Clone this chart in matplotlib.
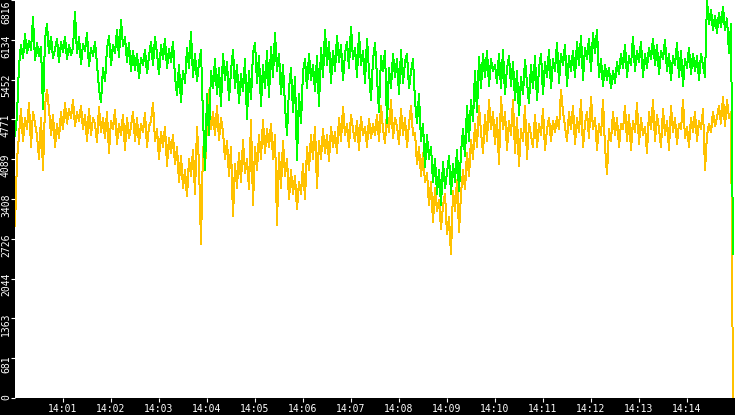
import matplotlib
matplotlib.use("Agg")
import matplotlib.pyplot as plt
import matplotlib.dates as mdates
import matplotlib.transforms as mtransforms
import pandas as pd

# samples every 2.5 s starting 14:00:00
start = "2024-01-01 14:00:00"
step = "2500ms"

green_vals = [
    4480, 4850, 5700, 6050, 5820, 6230, 5900, 6120, 5960, 6520, 5780, 6080, 5850, 6020, 4940, 6150, 6400, 5900, 6190, 5820,
    5980, 6150, 5760, 6090, 5930, 6180, 5800, 6040, 5870, 6010, 6610, 5900, 6180, 5720, 6060, 5950, 6250, 5680, 5990, 5860,
    6100, 5720, 5300, 5060, 5650, 5420, 5980, 6200, 5700, 6050, 5900, 6300, 5840, 6474, 6020, 6180, 5760, 6080, 5600, 5950,
    5620, 5900, 5480, 5820, 5700, 5960, 5560, 5850, 6100, 5700, 6180, 5900, 5540, 6050, 5800, 6150, 5650, 5980, 5750, 6100,
    5500, 5180, 5700, 5060, 5600, 5400, 6000, 5650, 6270, 5500, 5900, 5420, 5750, 5960, 4800, 3900, 5200, 4500, 5600, 5300,
    5800, 5200, 5650, 5000, 5900, 5450, 5750, 5100, 5600, 5960, 5300, 5700, 5050, 5550, 5250, 5800, 4780, 5600, 5120, 5900,
    6080, 5400, 5850, 5000, 5700, 5300, 5950, 5150, 6020, 5500, 6250, 5600, 5900, 5200, 5700, 5000, 4510, 5300, 5650, 4900,
    5500, 4080, 5200, 4700, 5600, 5800, 5300, 5900, 5450, 5700, 5250, 5850, 5000, 6000, 5500, 6300, 5700, 6100, 5400, 5950,
    5600, 6200, 5750, 6050, 5450, 5900, 6100, 5650, 6360, 5800, 6000, 5500, 6250, 5700, 5950, 5400, 6150, 5600, 5100, 5800,
    6080, 5500, 4900, 5850, 5600, 5950, 4700, 5650, 5300, 5900, 5500, 5800, 5200, 5960, 5400, 5750, 5900, 5300, 5600, 5800,
    5100, 4700, 5200, 4400, 4700, 3950, 4500, 4100, 4300, 3700, 4100, 3500, 3900, 3300, 4050, 3600, 3850, 4150, 3500, 4000,
    3700, 4250, 3550, 4200, 4600, 4150, 5000, 4400, 5100, 4750, 5600, 4900, 5840, 5300, 5900, 5500, 5950, 5350, 5800, 5600,
    5700, 5400, 5900, 5300, 5960, 5200, 5650, 5850, 5350, 5750, 5100, 5600, 4850, 5500, 5200, 5790, 5400, 5050, 5700, 5300,
    5850, 5100, 5650, 5900, 5200, 5750, 5500, 5960, 5300, 5800, 5600, 6080, 5400, 5900, 5700, 6050, 5350, 5850, 5600, 5950,
    5500, 6100, 5700, 6200, 5450, 6000, 5800, 6150, 5600, 6250, 5900, 6300, 5500, 5800, 5350, 5700, 5450, 5650, 5300, 5600,
    5400, 5750, 5550, 5900, 5650, 6050, 5500, 5850, 5700, 6190, 5600, 5950, 5750, 6100, 5500, 5900, 5650, 6000, 5800, 6150,
    5700, 6050, 5550, 5950, 5800, 6130, 5600, 5900, 5450, 5850, 5700, 6080, 5500, 5950, 5350, 5800, 5650, 6000, 5550, 5900,
    5600, 5850, 5450, 5900, 5700, 5500, 6816, 6400, 6650, 6300, 6550, 6250, 6600, 6350, 6700, 6300, 6500, 5900, 6400, 2460,
]

orange_vals = [
    2940, 4080, 4500, 4950, 4400, 4800, 4600, 5050, 4300, 4900, 4700, 4500, 4100, 4800, 3900, 5000, 5280, 4950, 4500, 4850,
    4300, 4700, 4450, 4900, 4600, 5050, 4700, 4950, 4800, 5100, 4650, 4900, 4750, 5000, 4600, 4850, 4400, 4950, 4500, 4800,
    4700, 4380, 4990, 4550, 4800, 4450, 4900, 4200, 4750, 4600, 4930, 4350, 4700, 4500, 4850, 4250, 4800, 4450, 4650, 4900,
    4400, 4800, 4350, 4700, 4550, 4880, 4300, 4650, 4750, 5050, 4400, 4600, 4100, 4550, 4300, 4650, 3980, 4450, 4200, 4500,
    4000, 4300, 3700, 4150, 3600, 3900, 3450, 4100, 3800, 4250, 3500, 4650, 4000, 2630, 4300, 3900, 4700, 5280, 4600, 4900,
    4500, 5000, 4420, 4800, 4550, 4100, 4400, 3800, 4300, 3110, 4000, 3600, 4200, 3700, 4420, 3850, 4100, 3570, 4765, 3300,
    4300, 3900, 4500, 4100, 4765, 4200, 4600, 4300, 4700, 4100, 4500, 2970, 4200, 3600, 4400, 3800, 4100, 3400, 3900, 3500,
    3800, 3230, 3700, 3500, 4000, 3400, 4300, 3900, 4500, 4100, 4650, 3600, 4400, 4100, 4600, 4200, 4500, 4050, 4650, 4300,
    4550, 4200, 4800, 4400, 4990, 4500, 4700, 4300, 4850, 4600, 4400, 4750, 4250, 4820, 4500, 4650, 4300, 4780, 4450, 4700,
    4500, 4850, 4400, 5000, 4600, 4370, 4900, 4550, 5100, 4450, 4800, 4650, 4350, 4950, 4500, 4800, 4300, 4700, 5000, 4500,
    4540, 4000, 4300, 3800, 4200, 3690, 3860, 3300, 3700, 3010, 3600, 3200, 3400, 2900, 3300, 3500, 2800, 3100, 2460, 3550,
    3200, 3740, 2850, 3500, 3900, 3570, 4200, 3800, 4420, 4100, 4700, 4300, 5000, 4550, 4200, 4850, 4400, 5100, 4600, 4900,
    4350, 4800, 4000, 5160, 4600, 4900, 4250, 4750, 4500, 5100, 4200, 4800, 3970, 4600, 4400, 5000, 4100, 4700, 4500, 4300,
    4850, 4300, 4700, 4500, 4950, 4250, 4600, 4800, 4400, 4750, 4550, 4820, 4600, 5280, 4900, 4650, 4400, 4900, 4600, 5000,
    4350, 4800, 4550, 5100, 4300, 4700, 4900, 4450, 5160, 4600, 4800, 4250, 4700, 4500, 5100, 4300, 3830, 4600, 4400, 4900,
    4500, 4800, 4300, 4700, 4600, 5000, 4400, 4850, 4250, 4750, 4550, 5050, 4350, 4800, 4500, 4650, 4200, 4900, 4600, 5100,
    4400, 4850, 4600, 4300, 4950, 4500, 4750, 4250, 5000, 4550, 4800, 4350, 4700, 4600, 5100, 4450, 4650, 4300, 4800, 4550,
    4900, 4400, 4750, 4600, 4950, 3900, 4500, 4700, 4550, 4900, 4650, 4800, 5000, 4700, 5160, 4650, 5100, 4800, 4900, 0,
]

y_ticks = [0, 681.6, 1363.2, 2044.8, 2726.4, 3408, 4089.6, 4771.2, 5452.8, 6134.4, 6816]
y_labels = ["0", "681", "1363", "2044", "2726", "3408", "4089", "4771", "5452", "6134", "6816"]

times = pd.date_range(start, periods=len(green_vals), freq=step)

fig = plt.figure(figsize=(7.35, 4.15), dpi=100, facecolor="black")
ax = fig.add_axes([15 / 735, 17 / 415, 720 / 735, 398 / 415])
ax.set_facecolor("white")

ax.plot(times, orange_vals, color="#ffc200", lw=0.72, antialiased=False)
ax.plot(times, green_vals, color="#00ff00", lw=0.72, antialiased=False)

ax.set_xlim(pd.Timestamp(start), pd.Timestamp(start) + pd.Timedelta(minutes=15))
ax.set_ylim(0, 6816)

ax.xaxis.set_major_locator(mdates.MinuteLocator(byminute=range(1, 15)))
ax.xaxis.set_major_formatter(mdates.DateFormatter("%H:%M"))
ax.set_yticks(y_ticks)
ax.set_yticklabels(y_labels, rotation=90, va="center")

for s in ax.spines.values():
    s.set_visible(False)
ax.tick_params(colors="white", length=3, width=0.8, labelsize=7)
ax.tick_params(axis="y", pad=0.3)
ax.tick_params(axis="x", pad=1.5)
for lab in ax.get_xticklabels() + ax.get_yticklabels():
    lab.set_fontfamily("DejaVu Sans Mono")
# y labels sit a little below their ticks in the original;
# the top one is pushed fully inside the figure, the bottom one sits on its tick
ylabs = ax.get_yticklabels()
for i, lab in enumerate(ylabs):
    dy = -6
    if i == len(ylabs) - 1:
        dy = -12
    elif i == 0:
        dy = 1
    shift = mtransforms.ScaledTranslation(0.5 / 100, dy / 100, fig.dpi_scale_trans)
    lab.set_transform(lab.get_transform() + shift)

fig.savefig("out.png", dpi=100, facecolor="black")
